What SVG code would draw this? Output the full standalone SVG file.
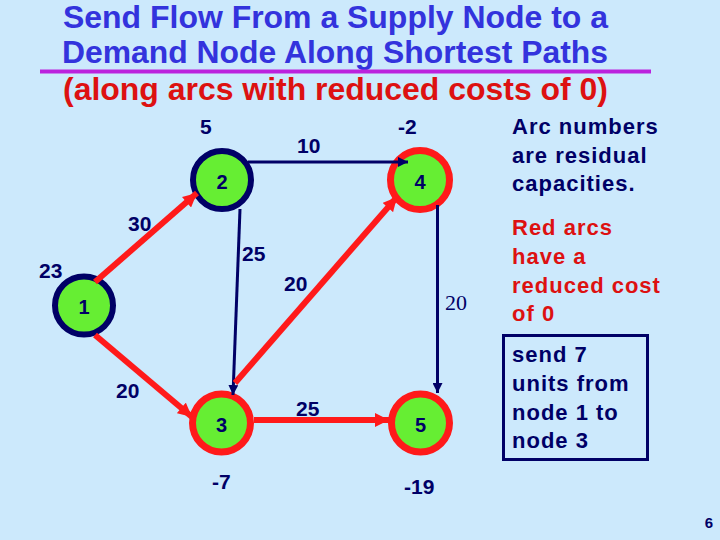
<svg xmlns="http://www.w3.org/2000/svg" width="720" height="540" viewBox="0 0 720 540">
<style>
.t1{font-family:"Liberation Sans",Arial,sans-serif;font-weight:bold;font-size:30.5px}
.lbl{font-family:"Liberation Sans",Arial,sans-serif;font-weight:bold;font-size:21px;fill:#000066}
.nlbl{font-family:"Liberation Sans",Arial,sans-serif;font-weight:bold;font-size:20px;fill:#000066;text-anchor:middle}
.side{font-family:"Liberation Sans",Arial,sans-serif;font-weight:bold;font-size:22px;letter-spacing:1px}
.nav{stroke:#000066;stroke-width:3;fill:none}
.red{stroke:#ff1a1a;stroke-width:6;fill:none}
.nb{fill:#66ee33;stroke:#000066;stroke-width:6}
.nr{fill:#66ee33;stroke:#ff1a1a;stroke-width:7}
</style>
<defs>
<marker id="ah" markerUnits="userSpaceOnUse" markerWidth="12" markerHeight="10" refX="10" refY="5" orient="auto">
<path d="M0,0 L10,5 L0,10 Z" fill="#000066"/>
</marker>
<marker id="ar" markerUnits="userSpaceOnUse" markerWidth="16" markerHeight="14" refX="14" refY="7" orient="auto">
<path d="M0,0 L14,7 L0,14 Z" fill="#ff1a1a"/>
</marker>
</defs>
<rect width="720" height="540" fill="#cce9fc"/>
<g id="title">
<text class="t1" x="63" y="27.5" fill="#3333dd" textLength="545" lengthAdjust="spacingAndGlyphs">Send Flow From a Supply Node to a</text>
<text class="t1" x="62" y="63" fill="#3333dd" textLength="546" lengthAdjust="spacingAndGlyphs">Demand Node Along Shortest Paths</text>
<line x1="40" y1="71.5" x2="651" y2="71.5" stroke="#bb22dd" stroke-width="4"/>
<text class="t1" x="63" y="100" fill="#dd1111" textLength="545" lengthAdjust="spacingAndGlyphs">(along arcs with reduced costs of 0)</text>
</g>
<g id="node1"><circle class="nb" cx="84" cy="305.5" r="29"/><text class="nlbl" x="84" y="314">1</text></g>
<g id="node2"><circle class="nb" cx="222" cy="180" r="29"/><text class="nlbl" x="222" y="188.5">2</text></g>
<g id="node3"><circle class="nr" cx="221.5" cy="423" r="29"/><text class="nlbl" x="221.5" y="431.5">3</text></g>
<g id="node4"><circle class="nr" cx="420" cy="180" r="29.5"/><text class="nlbl" x="420" y="188.5">4</text></g>
<g id="node5"><circle class="nr" cx="420.5" cy="423" r="29"/><text class="nlbl" x="420.5" y="431.5">5</text></g>
<g id="connectors">
<line class="nav" x1="248" y1="162" x2="408" y2="162" marker-end="url(#ah)"/>
<line class="nav" x1="240" y1="209" x2="233" y2="395" marker-end="url(#ah)"/>
<line class="nav" x1="437.5" y1="205" x2="437.5" y2="393" marker-end="url(#ah)"/>
<line class="red" x1="95" y1="282" x2="197" y2="193" marker-end="url(#ar)"/>
<line class="red" x1="95" y1="335" x2="192" y2="417" marker-end="url(#ar)"/>
<line class="red" x1="235" y1="383" x2="397" y2="197" marker-end="url(#ar)"/>
<line class="red" x1="254" y1="420" x2="389" y2="420" marker-end="url(#ar)"/>
</g>
<g id="labels">
<text class="lbl" x="200" y="134">5</text>
<text class="lbl" x="398" y="134">-2</text>
<text class="lbl" x="297" y="153">10</text>
<text class="lbl" x="128" y="231">30</text>
<text class="lbl" x="242" y="261">25</text>
<text class="lbl" x="39" y="278">23</text>
<text class="lbl" x="284" y="291">20</text>
<text class="lbl" x="116" y="398">20</text>
<text class="lbl" x="296" y="416">25</text>
<text class="lbl" x="212" y="489">-7</text>
<text class="lbl" x="404" y="494">-19</text>
<text x="445" y="310" font-family="Liberation Serif,'Times New Roman',serif" font-size="22" fill="#000066">20</text>
</g>
<g id="notes">
<text class="side" fill="#000066"><tspan x="512" y="134">Arc numbers</tspan><tspan x="512" y="163">are residual</tspan><tspan x="512" y="191">capacities.</tspan></text>
<text class="side" fill="#dd1111"><tspan x="512" y="235">Red arcs</tspan><tspan x="512" y="264">have a</tspan><tspan x="512" y="293">reduced cost</tspan><tspan x="512" y="321">of 0</tspan></text>
<rect x="503.5" y="335.5" width="144" height="124" fill="none" stroke="#000066" stroke-width="3"/>
<text class="side" fill="#000066"><tspan x="512" y="362">send 7</tspan><tspan x="512" y="391">units from</tspan><tspan x="512" y="420">node 1 to</tspan><tspan x="512" y="448">node 3</tspan></text>
<text x="713" y="528" text-anchor="end" font-family="Liberation Sans,Arial,sans-serif" font-weight="bold" font-size="15" fill="#000066">6</text>
</g>
</svg>
